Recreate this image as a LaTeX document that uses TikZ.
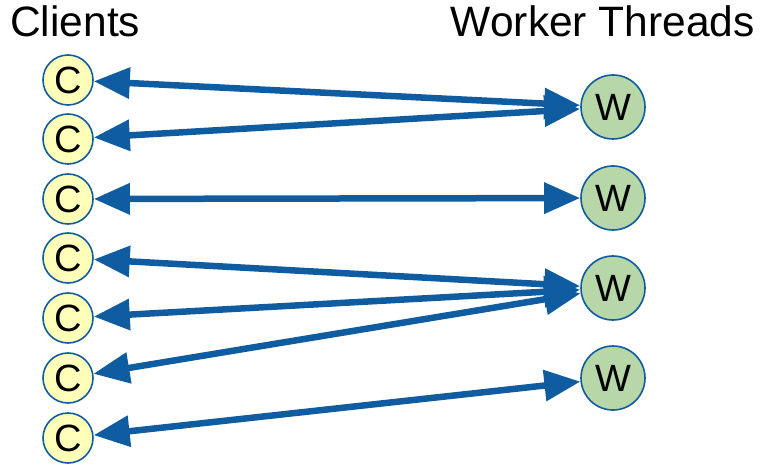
\documentclass[tikz,border=0pt]{standalone}
\usepackage{fontspec}
\setmainfont{Liberation Sans}
\usetikzlibrary{arrows.meta}
\definecolor{linkblue}{RGB}{16,92,160}
\definecolor{clientfill}{RGB}{255,255,185}
\definecolor{workerfill}{RGB}{183,215,168}

\begin{document}
\begin{tikzpicture}[x=1pt,y=-1pt,
		client/.style={circle,draw=linkblue,line width=1.6pt,fill=clientfill,
			minimum size=50pt,inner sep=0pt,font=\fontsize{38}{38}\selectfont},
		worker/.style={circle,draw=linkblue,line width=1.6pt,fill=workerfill,
			minimum size=64pt,inner sep=0pt,font=\fontsize{38}{38}\selectfont},
		link/.style={linkblue,line width=6.5pt,
			{Triangle[length=36pt,width=30pt]}-{Triangle[length=36pt,width=30pt]}},
		title/.style={font=\fontsize{42.5}{42.5}\selectfont,inner sep=0pt}]
			\useasboundingbox (0,0) rectangle (763,465);
			\node[title,anchor=base west] (clients) at (10,37) {Clients};
			\node[title,anchor=base east] (workers) at (755,37) {Worker Threads};
			% clients
			\node[client] (c1) at (68,80) {C};
			\node[client] (c2) at (68,139) {C};
			\node[client] (c3) at (68,199) {C};
			\node[client] (c4) at (68,258) {C};
			\node[client] (c5) at (68,318) {C};
			\node[client] (c6) at (68,378) {C};
			\node[client] (c7) at (68,438) {C};
			% worker threads
			\node[worker] (w1) at (613,107) {W};
			\node[worker] (w2) at (613,198) {W};
			\node[worker] (w3) at (613,288) {W};
			\node[worker] (w4) at (613,378) {W};
			% connections
			\draw[link] (c1) -- (w1);
			\draw[link] (c2) -- (w1);
			\draw[link] (c3) -- (w2);
			\draw[link] (c4) -- (w3);
			\draw[link] (c5) -- (w3);
			\draw[link] (c6) -- (w3);
			\draw[link] (c7) -- (w4);
		\end{tikzpicture}
\end{document}
